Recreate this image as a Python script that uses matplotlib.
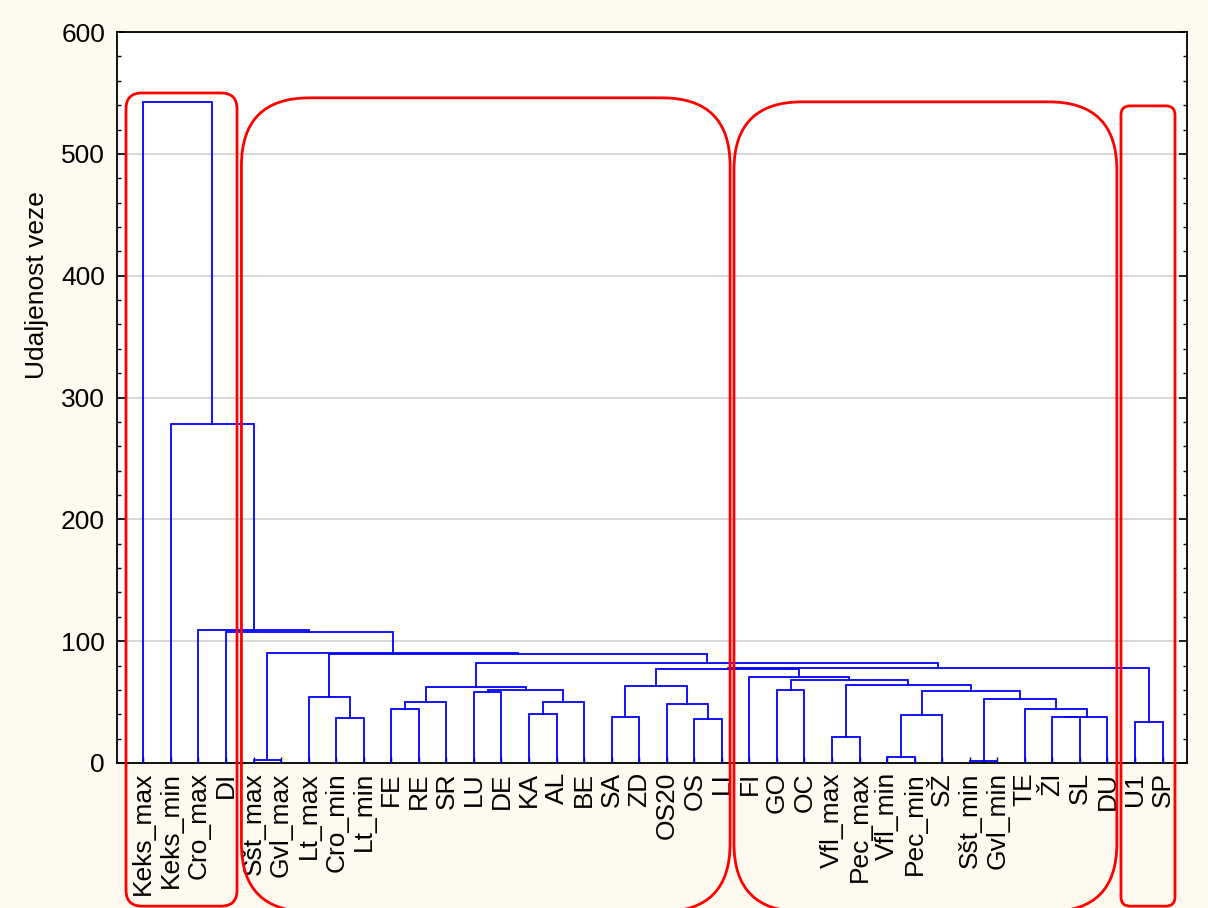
import matplotlib
matplotlib.use("Agg")
import matplotlib.pyplot as plt
from matplotlib.patches import FancyBboxPatch
from matplotlib.ticker import MultipleLocator
from matplotlib.transforms import IdentityTransform

plt.rcParams['font.family'] = ['Liberation Sans', 'DejaVu Sans']

# leaves in dendrogram order (index = position on the x axis)
leaf_labels = ["Keks_max", "Keks_min", "Cro_max", "DI", "Sšt_max", "Gvl_max",
               "Lt_max", "Cro_min", "Lt_min", "FE", "RE", "SR", "LU", "DE",
               "KA", "AL", "BE", "SA", "ZD", "OS20", "OS", "LI", "FI", "GO",
               "OC", "Vfl_max", "Pec_max", "Vfl_min", "Pec_min", "SŽ",
               "Sšt_min", "Gvl_min", "TE", "ŽI", "SL", "DU", "U1", "SP"]

# joins: new cluster id = 38 + row number
left_child = [4, 30, 27, 25, 20, 7, 33, 44, 17, 40, 14, 32, 9, 19, 50, 48,
              39, 6, 12, 47, 56, 23, 52, 46, 41, 59, 22, 61, 36, 65, 60, 55,
              38, 3, 2, 1, 0]
right_child = [5, 31, 28, 26, 21, 8, 34, 35, 18, 29, 15, 45, 10, 42, 11, 16,
               49, 43, 13, 54, 53, 24, 58, 51, 57, 62, 63, 64, 37, 66, 67, 68,
               69, 70, 71, 72, 73]
link_height = [2.5, 2.0, 4.7, 21.6, 36.4, 36.7, 37.5, 38.0, 38.0, 39.4, 40.5,
               44.1, 44.6, 48.7, 50.1, 50.1, 52.3, 54.4, 58.3, 59.4, 59.9,
               59.9, 62.6, 63.2, 63.8, 67.9, 70.9, 76.9, 33.7, 77.7, 82.3,
               89.5, 90.1, 107.8, 109.2, 278.3, 542.4]

# red group outlines (x in leaf units, y in linkage units, corner radius px)
box_left = [-0.63, 3.56, 21.44, 35.49]
box_right = [3.40, 21.30, 35.34, 37.45]
box_top = [550, 546, 542.7, 539.4]
box_bottom = [-117.5, -122, -122, -117.5]
box_round = [16, 68, 68, 9]

fig = plt.figure(figsize=(12.08, 9.08), dpi=100, facecolor="#fffaf0")
ax = fig.add_axes([0.0969, 0.1597, 0.8858, 0.8050])
ax.set_facecolor("white")

n = len(leaf_labels)
xpos = {i: float(i) for i in range(n)}
ypos = {i: 0.0 for i in range(n)}
for k, (a, b, h) in enumerate(zip(left_child, right_child, link_height)):
    ax.plot([xpos[a], xpos[a], xpos[b], xpos[b]], [ypos[a], h, h, ypos[b]],
            color="blue", lw=1.3, solid_joinstyle="miter", zorder=3)
    xpos[n + k] = (xpos[a] + xpos[b]) / 2
    ypos[n + k] = h

ax.set_xlim(-0.955, 37.89)
ax.set_ylim(0, 600)

ax.set_xticks(range(n))
ax.set_xticklabels(leaf_labels, rotation=90, fontsize=19)
ax.tick_params(axis="x", direction="in", length=4, width=1, pad=6.5)
ax.set_yticks(range(0, 601, 100))
ax.yaxis.set_minor_locator(MultipleLocator(20))
ax.tick_params(axis="y", which="major", direction="in", length=6, width=1.2,
               right=True, pad=8.6, labelsize=19)
ax.tick_params(axis="y", which="minor", direction="in", length=3, width=1,
               right=True)
ax.grid(axis="y", which="major", color="#d4d4d4", lw=1.3)
ax.set_axisbelow(True)
for s in ax.spines.values():
    s.set_linewidth(1.3)

ax.set_ylabel("Udaljenost veze", fontsize=19)
ax.yaxis.set_label_coords(-0.0636, 0.654)

for x0, x1, y0, y1, r in zip(box_left, box_right, box_bottom, box_top, box_round):
    (px0, py0), (px1, py1) = ax.transData.transform([(x0, y0), (x1, y1)])
    fig.add_artist(FancyBboxPatch((px0, py0), px1 - px0, py1 - py0,
                                  boxstyle=f"round,pad=0,rounding_size={r}",
                                  transform=IdentityTransform(), fill=False,
                                  ec="red", lw=2.0, clip_on=False, zorder=5))

fig.savefig("out.png", dpi=100, facecolor=fig.get_facecolor())
